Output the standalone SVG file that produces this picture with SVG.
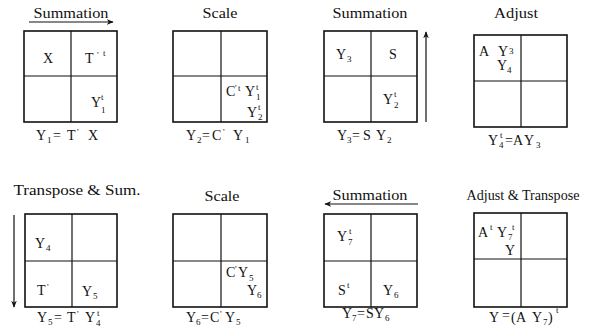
<svg xmlns="http://www.w3.org/2000/svg" width="597" height="335" viewBox="0 0 597 335">
<style>
text{font-family:"Liberation Serif","Times New Roman",serif;fill:#111}
.t{font-size:15px;text-anchor:middle}
.c{font-size:14px}
.s{font-size:9px}
.box{fill:none;stroke:#111;stroke-width:1.6}
.ln{stroke:#111;stroke-width:1.2}
.ar{stroke:#111;stroke-width:1.2;fill:none;marker-end:url(#ah)}
</style>
<defs>
<marker id="ah" viewBox="0 0 10 10" refX="9" refY="5" markerWidth="7" markerHeight="7" orient="auto" markerUnits="userSpaceOnUse">
<path d="M0,1 L10,5 L0,9 L3,5 z" fill="#111"/>
</marker>
</defs>
<g id="connectors">
<line class="ar" x1="29" y1="22" x2="113" y2="22"/>
<line class="ar" x1="426" y1="122" x2="426" y2="32"/>
<line class="ar" x1="14" y1="215" x2="14" y2="307"/>
<line class="ar" x1="418" y1="204" x2="325" y2="204"/>
</g>
<g id="p1">
<text class="t" x="71" y="18" textLength="75" lengthAdjust="spacingAndGlyphs">Summation</text>
<rect class="box" x="24" y="31" width="93" height="91"/>
<line class="ln" x1="71" y1="31" x2="71" y2="122"/>
<line class="ln" x1="24" y1="76" x2="117" y2="76"/>
<text class="c" x="43" y="63">X</text>
<text class="c" x="85" y="63">T</text><text class="s" x="97" y="58">'</text><text class="s" x="103" y="56">t</text>
<text class="c" x="91" y="107">Y</text><text class="s" x="101" y="100">t</text><text class="s" x="101" y="113">1</text>
<text class="c" x="36" y="140">Y</text><text class="s" x="47" y="143">1</text><text class="c" x="53" y="140">=</text><text class="c" x="67" y="140">T</text><text class="s" x="77" y="135">'</text><text class="c" x="88" y="140">X</text>
</g>
<g id="p2">
<text class="t" x="220" y="18" textLength="35" lengthAdjust="spacingAndGlyphs">Scale</text>
<rect class="box" x="173" y="31" width="94" height="91"/>
<line class="ln" x1="221" y1="31" x2="221" y2="122"/>
<line class="ln" x1="173" y1="76" x2="267" y2="76"/>
<text class="c" x="226" y="96">C</text><text class="s" x="235" y="91">'</text><text class="s" x="238" y="91">t</text><text class="c" x="245" y="96">Y</text><text class="s" x="256" y="90">t</text><text class="s" x="256" y="100">1</text>
<text class="c" x="247" y="117">Y</text><text class="s" x="258" y="110">t</text><text class="s" x="258" y="120">2</text>
<text class="c" x="186" y="140">Y</text><text class="s" x="197" y="143">2</text><text class="c" x="202" y="140">=</text><text class="c" x="212" y="140">C</text><text class="s" x="223" y="135">'</text><text class="c" x="233" y="140">Y</text><text class="s" x="245" y="143">1</text>
</g>
<g id="p3">
<text class="t" x="370" y="18" textLength="75" lengthAdjust="spacingAndGlyphs">Summation</text>
<rect class="box" x="324" y="31" width="93" height="91"/>
<line class="ln" x1="371" y1="31" x2="371" y2="122"/>
<line class="ln" x1="324" y1="76" x2="417" y2="76"/>
<text class="c" x="336" y="59">Y</text><text class="s" x="347" y="62">3</text>
<text class="c" x="389" y="59">S</text>
<text class="c" x="383" y="104">Y</text><text class="s" x="394" y="97">t</text><text class="s" x="394" y="108">2</text>
<text class="c" x="337" y="140">Y</text><text class="s" x="347" y="143">3</text><text class="c" x="352" y="140">=</text><text class="c" x="363" y="140">S</text><text class="c" x="376" y="140">Y</text><text class="s" x="387" y="143">2</text>
</g>
<g id="p4">
<text class="t" x="516" y="18" textLength="44" lengthAdjust="spacingAndGlyphs">Adjust</text>
<rect class="box" x="474" y="35" width="93" height="92"/>
<line class="ln" x1="521" y1="35" x2="521" y2="127"/>
<line class="ln" x1="474" y1="81" x2="567" y2="81"/>
<text class="c" x="479" y="56">A</text><text class="c" x="498" y="56">Y</text><text class="s" x="509" y="54">3</text>
<text class="c" x="497" y="70">Y</text><text class="s" x="507" y="73">4</text>
<text class="c" x="488" y="145">Y</text><text class="s" x="500" y="138">t</text><text class="s" x="499" y="148">4</text><text class="c" x="505" y="145">=</text><text class="c" x="513" y="145">A</text><text class="c" x="524" y="145">Y</text><text class="s" x="536" y="148">3</text>
</g>
<g id="p5">
<text class="t" x="77" y="195" textLength="127" lengthAdjust="spacingAndGlyphs">Transpose &amp; Sum.</text>
<rect class="box" x="25" y="214" width="92" height="93"/>
<line class="ln" x1="72" y1="214" x2="72" y2="307"/>
<line class="ln" x1="25" y1="261" x2="117" y2="261"/>
<text class="c" x="35" y="248">Y</text><text class="s" x="46" y="251">4</text>
<text class="c" x="37" y="295">T</text><text class="s" x="47" y="290">'</text>
<text class="c" x="82" y="296">Y</text><text class="s" x="93" y="299">5</text>
<text class="c" x="37" y="322">Y</text><text class="s" x="48" y="325">5</text><text class="c" x="54" y="322">=</text><text class="c" x="67" y="322">T</text><text class="s" x="77" y="317">'</text><text class="c" x="85" y="322">Y</text><text class="s" x="97" y="316">t</text><text class="s" x="96" y="326">4</text>
</g>
<g id="p6">
<text class="t" x="222" y="201" textLength="35" lengthAdjust="spacingAndGlyphs">Scale</text>
<rect class="box" x="173" y="214" width="94" height="93"/>
<line class="ln" x1="221" y1="214" x2="221" y2="307"/>
<line class="ln" x1="173" y1="261" x2="267" y2="261"/>
<text class="c" x="226" y="277">C</text><text class="s" x="235" y="272">'</text><text class="c" x="238" y="277">Y</text><text class="s" x="249" y="281">5</text>
<text class="c" x="247" y="295">Y</text><text class="s" x="257" y="298">6</text>
<text class="c" x="186" y="322">Y</text><text class="s" x="196" y="325">6</text><text class="c" x="201" y="322">=</text><text class="c" x="210" y="322">C</text><text class="s" x="220" y="317">'</text><text class="c" x="225" y="322">Y</text><text class="s" x="236" y="325">5</text>
</g>
<g id="p7">
<text class="t" x="370" y="200" textLength="75" lengthAdjust="spacingAndGlyphs">Summation</text>
<rect class="box" x="324" y="214" width="93" height="93"/>
<line class="ln" x1="371" y1="214" x2="371" y2="307"/>
<line class="ln" x1="324" y1="261" x2="417" y2="261"/>
<text class="c" x="337" y="241">Y</text><text class="s" x="349" y="234">t</text><text class="s" x="348" y="245">7</text>
<text class="c" x="338" y="295">S</text><text class="s" x="347" y="288">t</text>
<text class="c" x="383" y="295">Y</text><text class="s" x="394" y="298">6</text>
<text class="c" x="342" y="318">Y</text><text class="s" x="352" y="321">7</text><text class="c" x="357" y="318">=</text><text class="c" x="366" y="318">S</text><text class="c" x="374" y="318">Y</text><text class="s" x="385" y="321">6</text>
</g>
<g id="p8">
<text class="t" x="523" y="200" textLength="113" lengthAdjust="spacingAndGlyphs">Adjust &amp; Transpose</text>
<rect class="box" x="474" y="213" width="93" height="94"/>
<line class="ln" x1="521" y1="213" x2="521" y2="307"/>
<line class="ln" x1="474" y1="259" x2="567" y2="259"/>
<text class="c" x="478" y="237">A</text><text class="s" x="490" y="230">t</text><text class="c" x="497" y="237">Y</text><text class="s" x="508" y="240">7</text><text class="s" x="512" y="230">t</text>
<text class="c" x="505" y="255">Y</text>
<text class="c" x="489" y="322">Y</text><text class="c" x="502" y="320">=</text><text class="c" x="511" y="322">(</text><text class="c" x="516" y="322">A</text><text class="c" x="532" y="322">Y</text><text class="s" x="543" y="325">7</text><text class="c" x="548" y="322">)</text><text class="s" x="556" y="313">t</text>
</g>
</svg>
